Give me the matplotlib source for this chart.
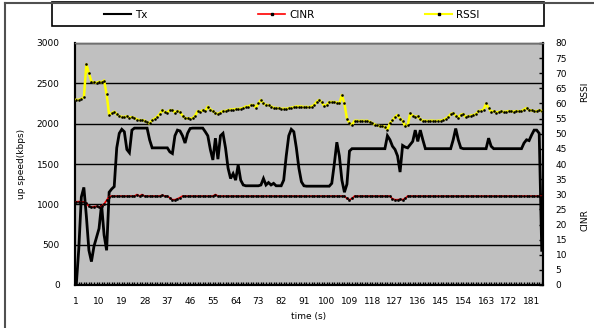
import matplotlib
matplotlib.use("Agg")
import matplotlib.pyplot as plt
from matplotlib.lines import Line2D
from matplotlib.patches import Rectangle
import numpy as np

plt.rcParams['font.family'] = ['DejaVu Sans']

# ---------------- data ----------------
time_ticks = [1, 10, 19, 28, 37, 46, 55, 64, 73, 82, 91, 100, 109, 118, 127, 136, 145, 154, 163, 172, 181]

tx = [0, 450, 1090, 1210, 850, 430, 290, 480, 590, 700,
      1000, 620, 430, 1150, 1190, 1220, 1700, 1880, 1930, 1900,
      1680, 1640, 1920, 1945, 1945, 1945, 1945, 1945, 1945, 1800,
      1700, 1700, 1700, 1700, 1700, 1700, 1700, 1650, 1630, 1850,
      1920, 1910, 1850, 1760, 1880, 1940, 1945, 1945, 1945, 1945,
      1945, 1900, 1850, 1680, 1550, 1820, 1560, 1850, 1880, 1700,
      1450, 1320, 1380, 1300, 1490, 1300, 1240, 1230, 1230, 1230,
      1230, 1230, 1230, 1240, 1320, 1240, 1270, 1240, 1260, 1230,
      1230, 1230, 1300, 1600, 1850, 1930, 1900, 1700, 1450, 1280,
      1230, 1225, 1225, 1225, 1225, 1225, 1225, 1225, 1225, 1225,
      1225, 1260, 1500, 1770, 1600, 1300, 1150, 1250, 1660, 1690,
      1690, 1690, 1690, 1690, 1690, 1690, 1690, 1690, 1690, 1690,
      1690, 1690, 1690, 1850, 1800, 1720, 1680, 1600, 1400, 1730,
      1710, 1700, 1740, 1780, 1920, 1780, 1920, 1800, 1690, 1690,
      1690, 1690, 1690, 1690, 1690, 1690, 1690, 1690, 1690, 1800,
      1940, 1800, 1700, 1690, 1690, 1690, 1690, 1690, 1690, 1690,
      1690, 1690, 1690, 1820, 1720, 1690, 1690, 1690, 1690, 1690,
      1690, 1690, 1690, 1690, 1690, 1690, 1690, 1760, 1800, 1790,
      1860, 1920, 1920, 1880, 430]

cinr = [27.5, 27.6, 27.4, 27.5, 27.0, 26.0, 25.7, 25.9, 26.0, 25.8,
        26.0, 26.8, 28.0, 29.2, 29.4, 29.4, 29.4, 29.4, 29.4, 29.4,
        29.4, 29.4, 29.4, 29.4, 29.9, 29.4, 29.9, 29.4, 29.4, 29.4,
        29.4, 29.4, 29.4, 29.4, 29.7, 29.4, 29.4, 28.8, 28.2, 28.2,
        28.5, 28.9, 29.4, 29.4, 29.4, 29.4, 29.4, 29.4, 29.4, 29.4,
        29.4, 29.4, 29.4, 29.4, 29.4, 29.9, 29.4, 29.4, 29.4, 29.4,
        29.4, 29.4, 29.4, 29.4, 29.4, 29.4, 29.4, 29.4, 29.4, 29.4,
        29.4, 29.4, 29.4, 29.4, 29.4, 29.4, 29.4, 29.4, 29.4, 29.4,
        29.4, 29.4, 29.4, 29.4, 29.4, 29.4, 29.4, 29.4, 29.4, 29.4,
        29.4, 29.4, 29.4, 29.4, 29.4, 29.4, 29.4, 29.4, 29.4, 29.4,
        29.4, 29.4, 29.4, 29.4, 29.4, 29.4, 29.4, 28.6, 28.2, 28.6,
        29.4, 29.4, 29.4, 29.4, 29.4, 29.4, 29.4, 29.4, 29.4, 29.4,
        29.4, 29.4, 29.4, 29.4, 29.4, 28.5, 28.2, 28.2, 28.3, 28.2,
        28.6, 29.4, 29.4, 29.4, 29.4, 29.4, 29.4, 29.4, 29.4, 29.4,
        29.4, 29.4, 29.4, 29.4, 29.4, 29.4, 29.4, 29.4, 29.4, 29.4,
        29.4, 29.4, 29.4, 29.4, 29.4, 29.4, 29.4, 29.4, 29.4, 29.4,
        29.4, 29.4, 29.4, 29.4, 29.4, 29.4, 29.4, 29.4, 29.4, 29.4,
        29.4, 29.4, 29.4, 29.4, 29.4, 29.4, 29.4, 29.4, 29.4, 29.4,
        29.4, 29.4, 29.4, 29.4, 29.4]

rssi = [61.2, 61.2, 61.5, 62.0, 73.0, 70.0, 67.2, 67.0, 66.8, 67.2,
        67.0, 67.6, 63.0, 56.2, 56.8, 57.3, 56.5, 55.8, 55.6, 55.5,
        55.8, 55.3, 55.5, 55.2, 54.7, 54.5, 54.5, 54.3, 53.8, 53.4,
        54.5, 55.0, 55.6, 56.5, 57.8, 57.2, 57.0, 57.8, 57.8, 57.0,
        57.5, 57.2, 56.0, 55.2, 55.1, 55.0, 55.1, 56.0, 57.5, 57.2,
        57.8, 57.5, 59.0, 58.0, 57.5, 56.8, 56.5, 57.0, 57.5, 57.5,
        57.8, 58.0, 58.0, 58.2, 58.2, 58.3, 58.5, 59.0, 59.0, 59.5,
        59.5, 58.6, 60.0, 61.2, 60.0, 59.5, 59.5, 59.0, 58.6, 58.5,
        58.5, 58.2, 58.3, 58.2, 58.5, 58.6, 58.8, 59.0, 59.0, 59.0,
        58.8, 58.9, 58.8, 59.0, 59.5, 60.5, 61.2, 60.5, 59.2, 59.5,
        60.5, 60.5, 60.5, 60.3, 60.0, 62.8, 60.0, 55.0, 53.5, 52.9,
        54.3, 54.3, 54.2, 54.3, 54.2, 54.3, 54.0, 53.5, 53.0, 52.8,
        52.5, 52.5, 52.3, 51.3, 53.5, 54.5, 55.5, 56.2, 55.0, 54.3,
        52.5, 52.8, 56.7, 56.0, 55.5, 55.8, 54.8, 54.3, 54.3, 54.2,
        54.3, 54.3, 54.2, 54.3, 54.3, 54.5, 55.0, 55.5, 56.5, 56.8,
        56.0, 55.3, 56.3, 56.5, 55.5, 55.8, 56.0, 56.2, 56.5, 57.5,
        57.6, 58.0, 60.0, 58.5, 57.3, 57.5, 57.0, 57.2, 57.4, 57.2,
        57.3, 57.5, 57.4, 57.3, 57.5, 57.4, 57.5, 58.0, 58.5, 57.8,
        57.7, 57.5, 57.4, 57.8, 57.5]

t = np.arange(1, len(tx) + 1)

W, H = 594, 328
fig = plt.figure(figsize=(W / 100, H / 100), dpi=100)
fig.patch.set_facecolor('white')

FS = 6.5
L, R, T, B = 75, 543, 43, 285
ax = fig.add_axes([L / W, 1 - B / H, (R - L) / W, (B - T) / H])
ax.set_facecolor('#C0C0C0')

ax.plot(t, tx, color='black', lw=2.0, solid_joinstyle='miter', zorder=3, label='Tx')
ax.set_xlim(0.5, len(tx) + 0.5)
ax.set_ylim(0, 3000)
ax.set_yticks(np.arange(0, 3001, 500))
ax.yaxis.grid(True, color='black', lw=1.0)
ax.set_axisbelow(True)
ax.set_xticks(time_ticks)
ax.set_xticklabels([str(v) for v in time_ticks])
ax.set_xticks(np.arange(1, len(tx) + 1), minor=True)
ax.tick_params(axis='x', which='both', direction='in', length=2.5, width=1.0, pad=9, labelsize=FS)
ax.tick_params(axis='y', which='both', length=0, pad=11, labelsize=FS)
ax.set_xlabel('time (s)', fontsize=FS, labelpad=4)
ax.set_ylabel('up speed(kbps)', fontsize=FS, labelpad=8)

ax2 = ax.twinx()
ax2.plot(t, cinr, color='red', lw=1.2, marker='s', ms=0.9, mfc='black', mec='black',
         zorder=4, label='CINR')
ax2.plot(t, rssi, color='#FFFF00', lw=1.8, marker='s', ms=0.8, mfc='black', mec='black',
         zorder=4, label='RSSI')
ax2.set_ylim(0, 80)
ax2.set_yticks(np.arange(0, 81, 5))
ax2.tick_params(axis='y', direction='in', length=3, width=1, pad=9, labelsize=FS)

for a in (ax, ax2):
    for s in ('left', 'bottom', 'right'):
        a.spines[s].set_color('black')
        a.spines[s].set_linewidth(1.5)
    a.spines['top'].set_color('#707070')
    a.spines['top'].set_linewidth(1.0)

# right-hand axis titles
fig.text(585 / W, 1 - 92 / H, 'RSSI', rotation=90, fontsize=FS, ha='center', va='center')
fig.text(585 / W, 1 - 220 / H, 'CINR', rotation=90, fontsize=FS, ha='center', va='center')

# outer chart frame (top and left visible)
fig.add_artist(Line2D([4.5 / W, 4.5 / W], [0, 1 - 2.5 / H], transform=fig.transFigure,
                      color='#505050', lw=1.5))
fig.add_artist(Line2D([4.5 / W, 1], [1 - 2.5 / H, 1 - 2.5 / H], transform=fig.transFigure,
                      color='#505050', lw=1.5))

# legend box
fig.add_artist(Rectangle((52 / W, 1 - 26 / H), (544 - 52) / W, 23.5 / H,
                         transform=fig.transFigure, fill=False, ec='black', lw=1.2))
handles = [Line2D([], [], color='black', lw=1.5),
           Line2D([], [], color='red', lw=1.2, marker='s', ms=2, mfc='black', mec='black'),
           Line2D([], [], color='#FFFF00', lw=1.5, marker='s', ms=2, mfc='black', mec='black')]
fig.legend(handles, ['Tx', 'CINR', 'RSSI'], loc='center left',
           bbox_to_anchor=(104 / W, 1 - 14.5 / H), ncol=3, frameon=False,
           fontsize=7.5, handlelength=2.6, handletextpad=0.4, columnspacing=10.6,
           borderpad=0, borderaxespad=0, numpoints=1)

fig.savefig('out.png', dpi=100)
